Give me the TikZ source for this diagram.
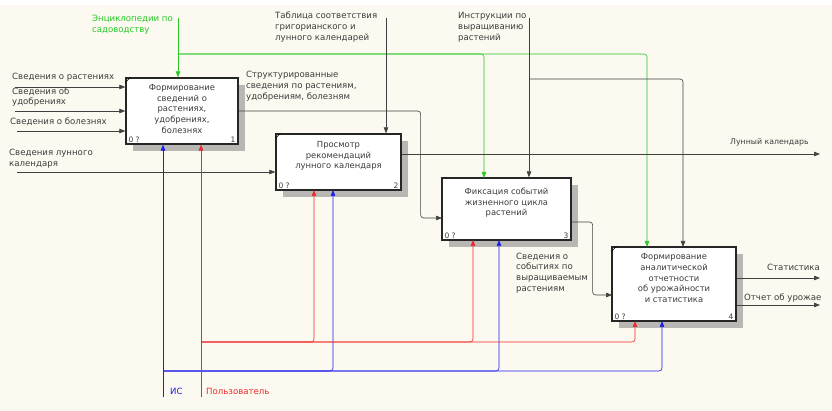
\documentclass[tikz,border=0pt]{standalone}
\usepackage{fontspec}
\setmainfont{DejaVu Sans}
\usetikzlibrary{arrows.meta, positioning, calc, shadows}

\definecolor{paper}{RGB}{251,249,240}
\definecolor{ink}{RGB}{60,60,60}
\definecolor{ctrlgreen}{RGB}{40,200,40}
\definecolor{mechblue}{RGB}{30,30,235}
\definecolor{mechred}{RGB}{240,40,40}

\tikzset{
  func/.style={draw=black!85, line width=1.3pt, fill=white, inner sep=0pt,
    drop shadow={shadow xshift=7pt, shadow yshift=-7pt, fill=black!45, opacity=0.6}},
  ftext/.style={align=center, font=\fontsize{8.4}{10.6}\selectfont, text=ink, inner sep=0pt},
  corner/.style={font=\fontsize{7.5}{9}\selectfont, text=ink, inner sep=0pt},
  lbl/.style={align=left, anchor=west, font=\fontsize{8.6}{10.8}\selectfont, text=ink, inner sep=0pt},
  arr/.style={-{Triangle[length=6pt, width=4.5pt]}, black!75, line width=0.6pt, rounded corners=3pt},
  garr/.style={arr, ctrlgreen},
  barr/.style={arr, mechblue},
  rarr/.style={arr, mechred}
}

\begin{document}
\begin{tikzpicture}[x=1pt, y=-1pt]
  % Background
  \useasboundingbox (0,0) rectangle (832,411);
  \fill[paper] (0,5) rectangle (832,411);

  % Function boxes
  \node[func, minimum width=112pt, minimum height=66pt] (b1) at (182,111) {};
  \node[func, minimum width=125pt, minimum height=56pt] (b2) at (338.5,162) {};
  \node[func, minimum width=129pt, minimum height=62pt] (b3) at (506.5,209) {};
  \node[func, minimum width=124pt, minimum height=74pt] (b4) at (674,284) {};

  \node[ftext] (t1) at ([yshift=2pt]b1.center) {Формирование\\сведений о\\растениях,\\удобрениях,\\болезнях};
  \node[ftext] (t2) at ([yshift=6pt]b2.center) {Просмотр\\рекомендаций\\лунного календаря};
  \node[ftext] (t3) at ([yshift=6pt]b3.center) {Фиксация событий\\жизненного цикла\\растений};
  \node[ftext] (t4) at ([yshift=6pt]b4.center) {Формирование\\аналитической\\отчетности\\об урожайности\\и статистика};

  % Corner marks and numbers
  \foreach \b/\n in {b1/1, b2/2, b3/3, b4/4} {
    \node[corner, anchor=south west] at ([shift={(3pt,2pt)}]\b.south west) {0 ?};
    \node[corner, anchor=south east] at ([shift={(-3pt,2pt)}]\b.south east) {\n};
  }
  \foreach \b in {b1, b2, b4}
    \draw[line width=0.6pt] ([yshift=-5pt]\b.north west) -- ([xshift=5pt]\b.north west);

  % Inputs
  \coordinate (i1) at (15,87);
  \coordinate (i2) at (15,111);
  \coordinate (i3) at (17,131);
  \coordinate (i4) at (17,172);
  \draw[arr] (i1) -- (i1 -| b1.west);
  \draw[arr] (i2) -- (i2 -| b1.west);
  \draw[arr] (i3) -- (i3 -| b1.west);
  \draw[arr] (i4) -- (i4 -| b2.west);
  \node[lbl] (l1) at (12,77) {Сведения о растениях};
  \node[lbl] (l2) at (12,97) {Сведения об\\удобрениях};
  \node[lbl] (l3) at (10,122) {Сведения о болезнях};
  \node[lbl] (l4) at (9,159) {Сведения лунного\\календаря};

  % Controls
  \coordinate (c1) at (178,18);
  \coordinate (g0) at (178,54);
  \coordinate (b3g) at (484,178);
  \coordinate (b4g) at (647,247);
  \draw[garr] (c1) -- (c1 |- b1.north);
  \draw[garr] (g0) -| (b3g);
  \draw[garr] (g0) -| (b4g);
  \node[lbl, text=ctrlgreen] (l5) at (92,24.5) {Энциклопедии по\\садоводству};

  \coordinate (c2) at (386,18);
  \draw[arr] (c2) -- (c2 |- b2.north);
  \node[lbl] (l6) at (275,27) {Таблица соответствия\\григорианского и\\лунного календарей};

  \coordinate (c3) at (529,18);
  \coordinate (k0) at (529,79);
  \coordinate (b4k) at (683,247);
  \draw[arr] (c3) -- (c3 |- b3.north);
  \draw[arr] (k0) -| (b4k);
  \node[lbl] (l7) at (458,27) {Инструкции по\\выращиванию\\растений};

  % Outputs
  \coordinate (b3in) at (442,218);
  \draw[arr] (b1.east) -- ++(182,0) |- (b3in);
  \node[lbl] (l8) at (246,86) {Структурированные\\сведения по растениям,\\удобрениям, болезням};

  \coordinate (o2) at (820,154);
  \draw[arr] (b2.east |- o2) -- (o2);
  \node[lbl, font=\fontsize{7.8}{9}\selectfont] (l9) at (730,142) {Лунный календарь};

  \coordinate (b4in) at (612,295);
  \draw[arr] ($(b3.east)+(0,13)$) -- ++(21,0) |- (b4in);
  \node[lbl] (l10) at (516,273) {Сведения о\\событиях по\\выращиваемым\\растениям};

  \coordinate (o4a) at (820,278);
  \coordinate (o4b) at (820,305);
  \draw[arr] (b4.east |- o4a) -- (o4a);
  \draw[arr] (b4.east |- o4b) -- (o4b);
  \node[lbl] (l11) at (767,267) {Статистика};
  \node[lbl] (l12) at (744,298) {Отчет об урожае};

  % Mechanisms
  \coordinate (m1) at (163,397);
  \coordinate (mb) at (163,371);
  \coordinate (b2b) at (333,190);
  \coordinate (b3b) at (499,240);
  \coordinate (b4b) at (662,321);
  \draw[barr] (m1) -- (m1 |- b1.south);
  \draw[barr] (mb) -| (b2b);
  \draw[barr] (mb) -| (b3b);
  \draw[barr] (mb) -| (b4b);
  \node[lbl, text=mechblue] (l13) at (170,391) {ИС};

  \coordinate (m2) at (201,397);
  \coordinate (mr) at (201,342);
  \coordinate (b2r) at (314,190);
  \coordinate (b3r) at (473,240);
  \coordinate (b4r) at (635,321);
  \draw[rarr] (m2) -- (m2 |- b1.south);
  \draw[rarr] (mr) -| (b2r);
  \draw[rarr] (mr) -| (b3r);
  \draw[rarr] (mr) -| (b4r);
  \node[lbl, text=mechred] (l14) at (206,391) {Пользователь};
\end{tikzpicture}
\end{document}
